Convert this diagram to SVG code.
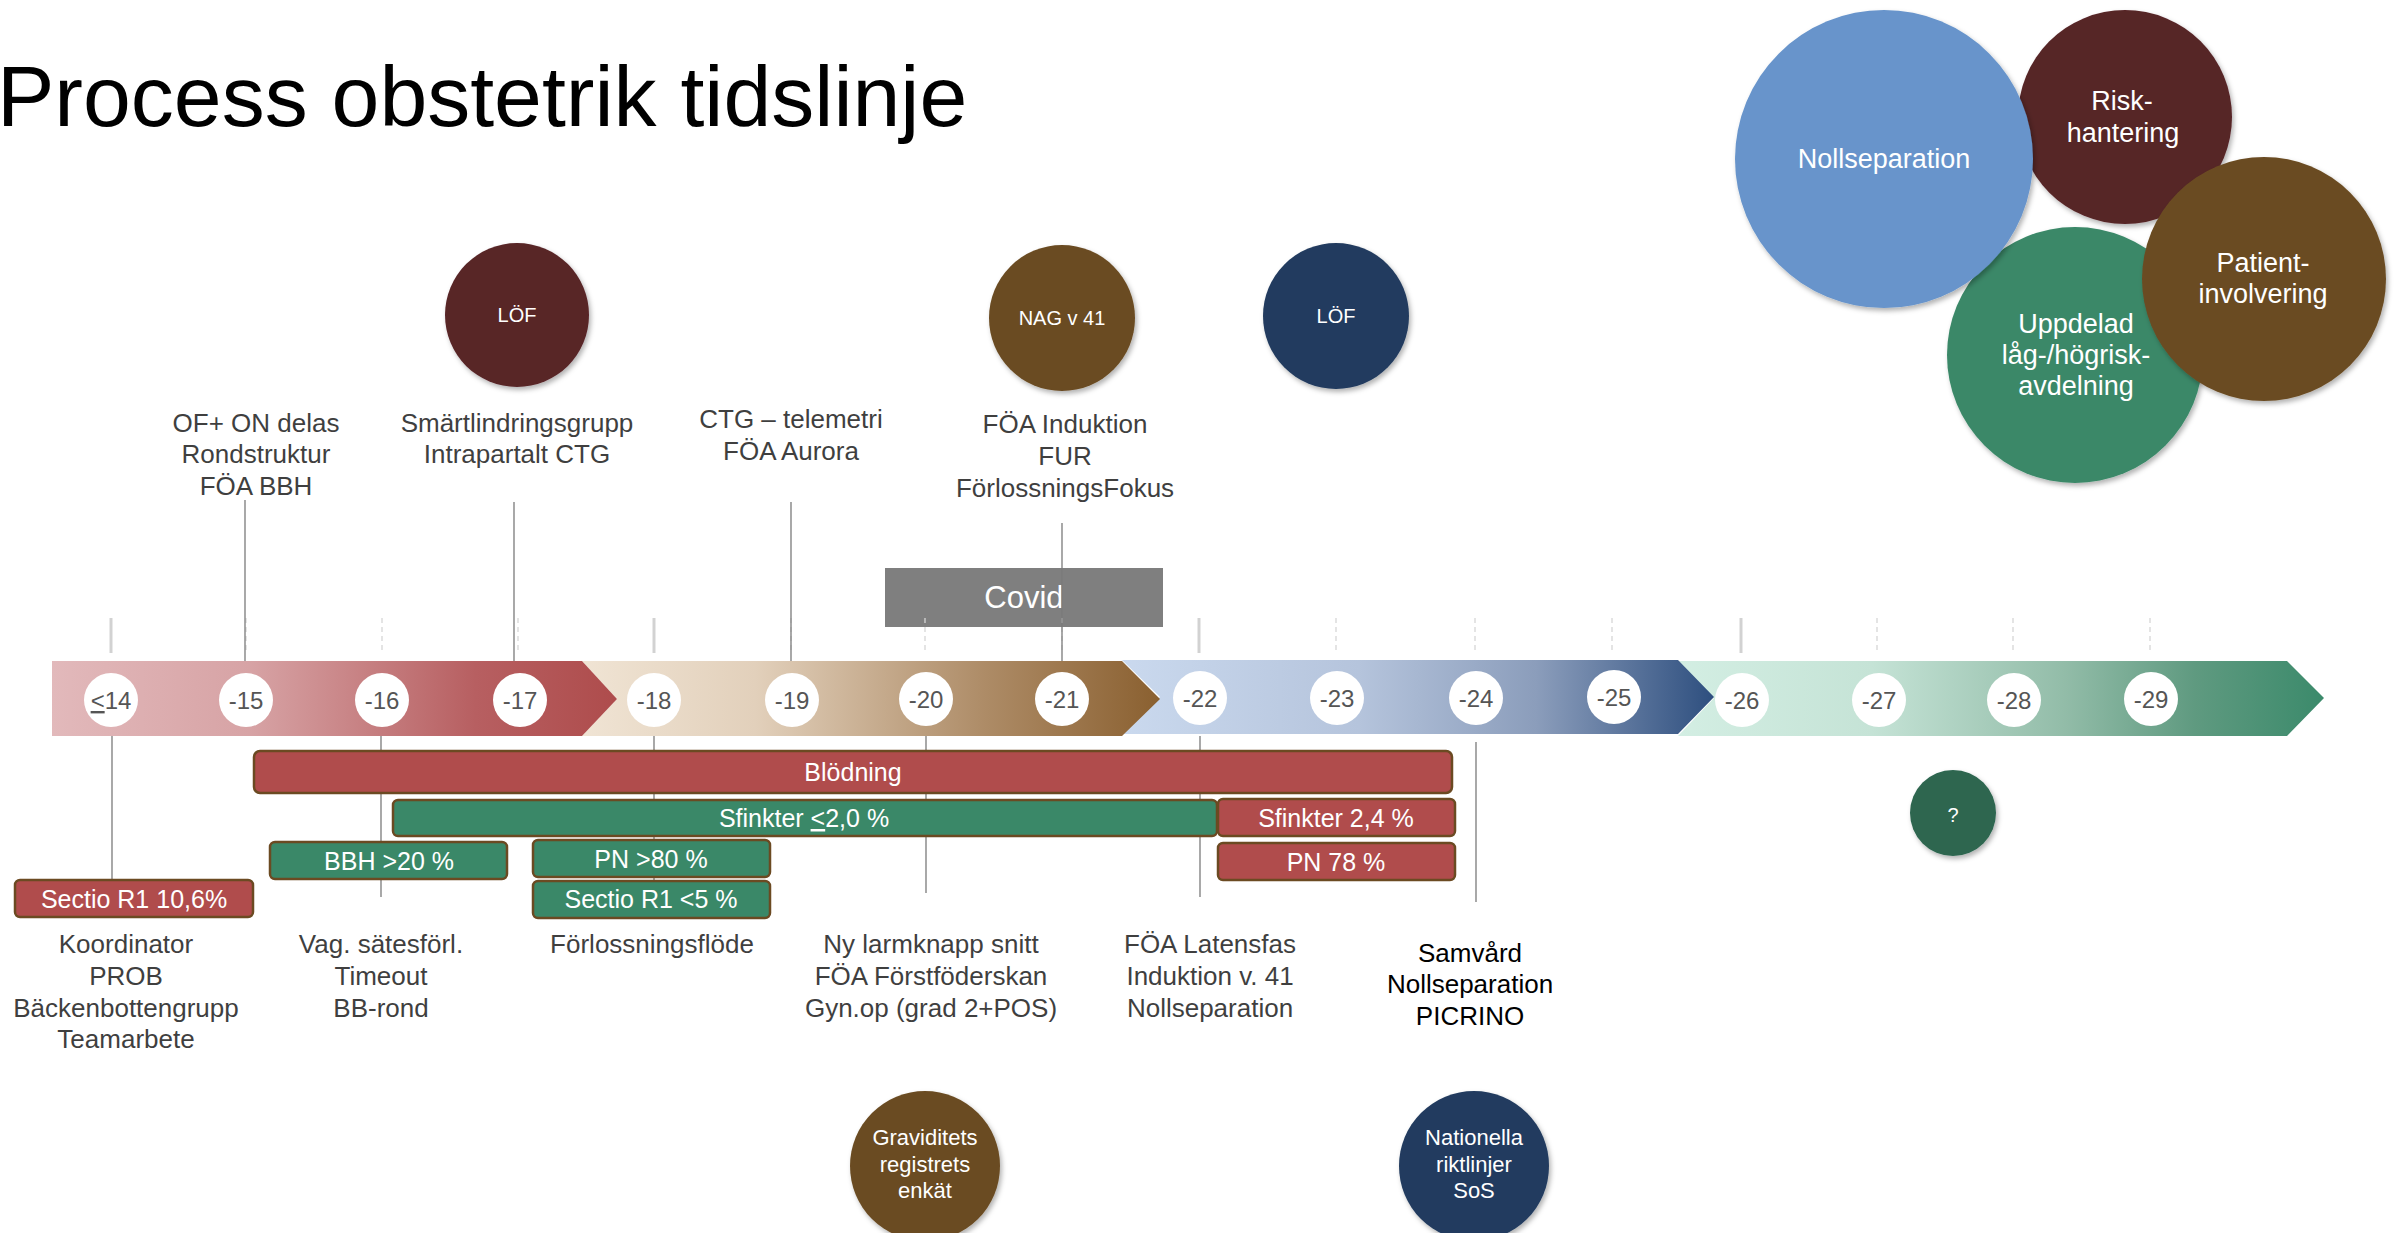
<svg xmlns="http://www.w3.org/2000/svg" width="2400" height="1233" viewBox="0 0 2400 1233">
<defs>
<linearGradient id="g1" x1="0" y1="0" x2="1" y2="0">
<stop offset="0" stop-color="#e2b9bb"/><stop offset="0.35" stop-color="#d7a3a5"/><stop offset="0.75" stop-color="#b75f61"/><stop offset="1" stop-color="#ae4c4c"/>
</linearGradient>
<linearGradient id="g2" x1="0" y1="0" x2="1" y2="0">
<stop offset="0" stop-color="#f0e4d4"/><stop offset="0.3" stop-color="#e2d0bb"/><stop offset="0.7" stop-color="#ad8b66"/><stop offset="1" stop-color="#8a6030"/>
</linearGradient>
<linearGradient id="g3" x1="0" y1="0" x2="1" y2="0">
<stop offset="0" stop-color="#cad9ee"/><stop offset="0.4" stop-color="#b5c4dc"/><stop offset="0.7" stop-color="#8b9dbb"/><stop offset="1" stop-color="#2e4f7f"/>
</linearGradient>
<linearGradient id="g4" x1="0" y1="0" x2="1" y2="0">
<stop offset="0" stop-color="#d3eee3"/><stop offset="0.3" stop-color="#c5e3d6"/><stop offset="0.6" stop-color="#92bca8"/><stop offset="0.8" stop-color="#5f9a80"/><stop offset="1" stop-color="#3b8a6b"/>
</linearGradient>
<filter id="sh" x="-20%" y="-20%" width="140%" height="140%">
<feDropShadow dx="2" dy="3" stdDeviation="2.5" flood-color="#000" flood-opacity="0.3"/>
</filter>
</defs>
<style>
text{font-family:"Liberation Sans",Arial,sans-serif;text-anchor:middle}
.lbl{font-size:26px;fill:#3f3f3f}
.blk{font-size:26px;fill:#000}
.num{font-size:24px;fill:#555}
.bar{stroke:#6b4a22;stroke-width:2.5}
.red{fill:#b04c4c}
.grn{fill:#3a8868}
.bt{font-size:25px;fill:#fff}
.ct{font-size:20px;fill:#fff}
.big{font-size:27px;fill:#fff}
.sm{font-size:22px;fill:#fff}
.conn{stroke:#7a7a7a;stroke-width:1.3;fill:none}
.tick{stroke:#d2d2d2;stroke-width:3}
.dash{stroke:#d6d6d6;stroke-width:1.3;stroke-dasharray:5 4}
.dot{fill:#fff}
</style>
<rect width="2400" height="1233" fill="#fff"/>
<text x="-3" y="126" style="font-size:86px;fill:#000;text-anchor:start">Process obstetrik tidslinje</text>

<g id="band">
<polygon points="1678,661 2287,661 2324,698 2287,736 1678,736 1714,698" fill="url(#g4)"/>
<polygon points="1122,660 1678,660 1714,697 1678,734 1122,734 1160,697" fill="url(#g3)"/>
<polygon points="582,661 1122,661 1160,699 1122,736 582,736 617,699" fill="url(#g2)"/>
<polygon points="52,661 582,661 617,699 582,736 52,736" fill="url(#g1)"/>
</g>

<g id="covid">
<rect x="885" y="568" width="278" height="59" fill="#7f7f7f"/>
<text x="1024" y="608" style="font-size:31px;fill:#fff">Covid</text>
</g>

<g id="ticks">
<line class="tick" x1="111" y1="618" x2="111" y2="653"/>
<line class="dash" x1="246" y1="618" x2="246" y2="653"/>
<line class="dash" x1="382" y1="618" x2="382" y2="653"/>
<line class="dash" x1="518" y1="618" x2="518" y2="653"/>
<line class="tick" x1="654" y1="618" x2="654" y2="653"/>
<line class="dash" x1="791" y1="618" x2="791" y2="653"/>
<line class="dash" x1="925" y1="618" x2="925" y2="653"/>
<line class="dash" x1="1062" y1="618" x2="1062" y2="653"/>
<line class="tick" x1="1199" y1="618" x2="1199" y2="653"/>
<line class="dash" x1="1336" y1="618" x2="1336" y2="653"/>
<line class="dash" x1="1475" y1="618" x2="1475" y2="653"/>
<line class="dash" x1="1612" y1="618" x2="1612" y2="653"/>
<line class="tick" x1="1741" y1="618" x2="1741" y2="653"/>
<line class="dash" x1="1877" y1="618" x2="1877" y2="653"/>
<line class="dash" x1="2013" y1="618" x2="2013" y2="653"/>
<line class="dash" x1="2150" y1="618" x2="2150" y2="653"/>
</g>

<g id="connectors">
<line class="conn" x1="245" y1="500" x2="245" y2="661"/>
<line class="conn" x1="514" y1="502" x2="514" y2="661"/>
<line class="conn" x1="791" y1="502" x2="791" y2="661"/>
<line class="conn" x1="1062" y1="523" x2="1062" y2="661"/>
<line class="conn" x1="112" y1="736" x2="112" y2="880"/>
<line class="conn" x1="381" y1="736" x2="381" y2="897"/>
<line class="conn" x1="654" y1="736" x2="654" y2="881"/>
<line class="conn" x1="926" y1="736" x2="926" y2="893"/>
<line class="conn" x1="1200" y1="736" x2="1200" y2="897"/>
<line class="conn" x1="1476" y1="742" x2="1476" y2="902"/>
</g>

<g id="marks">
<ellipse class="dot" cx="111" cy="700" rx="27" ry="27"/><text class="num" x="111" y="709"><tspan text-decoration="underline">&lt;</tspan>14</text>
<ellipse class="dot" cx="246" cy="700" rx="27" ry="27"/><text class="num" x="246" y="709">-15</text>
<ellipse class="dot" cx="382" cy="700" rx="27" ry="27"/><text class="num" x="382" y="709">-16</text>
<ellipse class="dot" cx="520" cy="700" rx="27" ry="27"/><text class="num" x="520" y="709">-17</text>
<ellipse class="dot" cx="654" cy="700" rx="27" ry="27"/><text class="num" x="654" y="709">-18</text>
<ellipse class="dot" cx="792" cy="700" rx="27" ry="27"/><text class="num" x="792" y="709">-19</text>
<ellipse class="dot" cx="926" cy="699" rx="27" ry="27"/><text class="num" x="926" y="708">-20</text>
<ellipse class="dot" cx="1062" cy="699" rx="27" ry="27"/><text class="num" x="1062" y="708">-21</text>
<ellipse class="dot" cx="1200" cy="698" rx="27" ry="27"/><text class="num" x="1200" y="707">-22</text>
<ellipse class="dot" cx="1337" cy="698" rx="27" ry="27"/><text class="num" x="1337" y="707">-23</text>
<ellipse class="dot" cx="1476" cy="698" rx="27" ry="27"/><text class="num" x="1476" y="707">-24</text>
<ellipse class="dot" cx="1614" cy="697" rx="27" ry="27"/><text class="num" x="1614" y="706">-25</text>
<ellipse class="dot" cx="1742" cy="700" rx="27" ry="27"/><text class="num" x="1742" y="709">-26</text>
<ellipse class="dot" cx="1879" cy="700" rx="27" ry="27"/><text class="num" x="1879" y="709">-27</text>
<ellipse class="dot" cx="2014" cy="700" rx="27" ry="27"/><text class="num" x="2014" y="709">-28</text>
<ellipse class="dot" cx="2151" cy="699" rx="27" ry="27"/><text class="num" x="2151" y="708">-29</text>
</g>

<g id="top-labels">
<g id="lbl-15"><text class="lbl" x="256" y="432">OF+ ON delas</text><text class="lbl" x="256" y="463">Rondstruktur</text><text class="lbl" x="256" y="495">FÖA BBH</text></g>
<g id="lbl-17"><text class="lbl" x="517" y="432">Smärtlindringsgrupp</text><text class="lbl" x="517" y="463">Intrapartalt CTG</text></g>
<g id="lbl-19"><text class="lbl" x="791" y="428">CTG – telemetri</text><text class="lbl" x="791" y="460">FÖA Aurora</text></g>
<g id="lbl-21"><text class="lbl" x="1065" y="433">FÖA Induktion</text><text class="lbl" x="1065" y="465">FUR</text><text class="lbl" x="1065" y="497">FörlossningsFokus</text></g>
</g>

<g id="top-circles">
<g id="lof1"><circle cx="517" cy="315" r="72" fill="#582528" filter="url(#sh)"/><text class="ct" x="517" y="322">LÖF</text></g>
<g id="nag"><circle cx="1062" cy="318" r="73" fill="#6b4c23" filter="url(#sh)"/><text class="ct" x="1062" y="325">NAG v 41</text></g>
<g id="lof2"><circle cx="1336" cy="316" r="73" fill="#213b5e" filter="url(#sh)"/><text class="ct" x="1336" y="323">LÖF</text></g>
</g>

<g id="bars">
<g id="blodning"><rect class="bar red" x="254" y="751" width="1198" height="42" rx="6"/><text class="bt" x="853" y="781">Blödning</text></g>
<g id="sfinkter20"><rect class="bar grn" x="393" y="800" width="824" height="36" rx="5"/><text class="bt" x="804" y="827">Sfinkter <tspan text-decoration="underline">&lt;</tspan>2,0 %</text></g>
<g id="sfinkter24"><rect class="bar red" x="1218" y="799" width="237" height="37" rx="5"/><text class="bt" x="1336" y="827">Sfinkter 2,4 %</text></g>
<g id="pn78"><rect class="bar red" x="1218" y="843" width="237" height="37" rx="5"/><text class="bt" x="1336" y="871">PN 78 %</text></g>
<g id="bbh"><rect class="bar grn" x="270" y="842" width="237" height="37" rx="5"/><text class="bt" x="389" y="870">BBH &gt;20 %</text></g>
<g id="pn80"><rect class="bar grn" x="533" y="840" width="237" height="37" rx="5"/><text class="bt" x="651" y="868">PN &gt;80 %</text></g>
<g id="sectio5"><rect class="bar grn" x="533" y="881" width="237" height="37" rx="5"/><text class="bt" x="651" y="908">Sectio R1 &lt;5 %</text></g>
<g id="sectio106"><rect class="bar red" x="15" y="880" width="238" height="37" rx="5"/><text class="bt" x="134" y="908">Sectio R1 10,6%</text></g>
</g>

<g id="bottom-labels">
<g id="lbl-14"><text class="lbl" x="126" y="953">Koordinator</text><text class="lbl" x="126" y="985">PROB</text><text class="lbl" x="126" y="1017">Bäckenbottengrupp</text><text class="lbl" x="126" y="1048">Teamarbete</text></g>
<g id="lbl-16"><text class="lbl" x="381" y="953">Vag. sätesförl.</text><text class="lbl" x="381" y="985">Timeout</text><text class="lbl" x="381" y="1017">BB-rond</text></g>
<g id="lbl-18"><text class="lbl" x="652" y="953">Förlossningsflöde</text></g>
<g id="lbl-20"><text class="lbl" x="931" y="953">Ny larmknapp snitt</text><text class="lbl" x="931" y="985">FÖA Förstföderskan</text><text class="lbl" x="931" y="1017">Gyn.op (grad 2+POS)</text></g>
<g id="lbl-22"><text class="lbl" x="1210" y="953">FÖA Latensfas</text><text class="lbl" x="1210" y="985">Induktion v. 41</text><text class="lbl" x="1210" y="1017">Nollseparation</text></g>
<g id="lbl-24"><text class="blk" x="1470" y="962">Samvård</text><text class="blk" x="1470" y="993">Nollseparation</text><text class="blk" x="1470" y="1025">PICRINO</text></g>
</g>

<g id="q"><circle cx="1953" cy="813" r="43" fill="#2d6650" filter="url(#sh)"/><text class="ct" x="1953" y="822">?</text></g>

<g id="bottom-circles">
<g id="graviditet"><circle cx="925" cy="1166" r="75" fill="#6b4c23" filter="url(#sh)"/><text class="sm" x="925" y="1145">Graviditets</text><text class="sm" x="925" y="1172">registrets</text><text class="sm" x="925" y="1198">enkät</text></g>
<g id="nationella"><circle cx="1474" cy="1166" r="75" fill="#213b5e" filter="url(#sh)"/><text class="sm" x="1474" y="1145">Nationella</text><text class="sm" x="1474" y="1172">riktlinjer</text><text class="sm" x="1474" y="1198">SoS</text></g>
</g>

<g id="focus-circles">
<g id="risk"><circle cx="2125" cy="117" r="107" fill="#572528" filter="url(#sh)"/><text class="big" x="2122" y="110">Risk-</text><text class="big" x="2123" y="142">hantering</text></g>
<g id="uppdelad"><circle cx="2075" cy="355" r="128" fill="#3a8868" filter="url(#sh)"/><text class="big" x="2076" y="333">Uppdelad</text><text class="big" x="2076" y="364">låg-/högrisk-</text><text class="big" x="2076" y="395">avdelning</text></g>
<g id="nollsep"><circle cx="1884" cy="159" r="149" fill="#6794cb" filter="url(#sh)"/><text class="big" x="1884" y="168">Nollseparation</text></g>
<g id="patient"><circle cx="2264" cy="279" r="122" fill="#6b4c23" filter="url(#sh)"/><text class="big" x="2263" y="272">Patient-</text><text class="big" x="2263" y="303">involvering</text></g>
</g>
</svg>
